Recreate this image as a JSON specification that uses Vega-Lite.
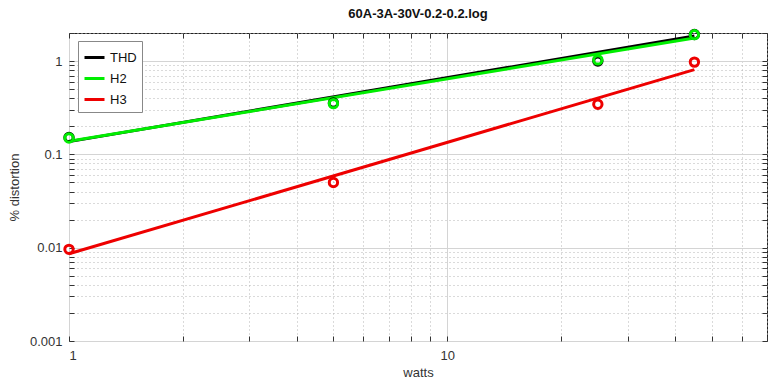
{
  "$schema": "https://vega.github.io/schema/vega-lite/v6.json",
  "autosize": "none",
  "width": 698,
  "height": 308,
  "padding": {"left": 69, "top": 33, "right": 14, "bottom": 44},
  "background": "white",
  "title": {"text": "60A-3A-30V-0.2-0.2.log", "font": "Liberation Sans", "fontSize": 13, "fontWeight": "bold", "color": "#111", "offset": 3},
  "config": {
    "view": {"stroke": "#222", "strokeWidth": 1},
    "axis": {"labelFont": "Liberation Sans", "titleFont": "Liberation Sans", "labelFontSize": 13, "titleFontSize": 13, "labelColor": "#333", "titleColor": "#333", "titleFontWeight": "normal"}
  },
  "data": {"values": [
    {"series": "THD", "kind": "fit", "watts": 1, "pct": 0.137},
    {"series": "THD", "kind": "fit", "watts": 45, "pct": 1.86},
    {"series": "H2", "kind": "fit", "watts": 1, "pct": 0.138},
    {"series": "H2", "kind": "fit", "watts": 45, "pct": 1.77},
    {"series": "H3", "kind": "fit", "watts": 1, "pct": 0.0086},
    {"series": "H3", "kind": "fit", "watts": 45, "pct": 0.81},
    {"series": "THD", "kind": "meas", "watts": 1, "pct": 0.152},
    {"series": "THD", "kind": "meas", "watts": 5, "pct": 0.355},
    {"series": "THD", "kind": "meas", "watts": 25, "pct": 1.0},
    {"series": "THD", "kind": "meas", "watts": 45, "pct": 1.93},
    {"series": "H2", "kind": "meas", "watts": 1, "pct": 0.15},
    {"series": "H2", "kind": "meas", "watts": 5, "pct": 0.35},
    {"series": "H2", "kind": "meas", "watts": 25, "pct": 1.03},
    {"series": "H2", "kind": "meas", "watts": 45, "pct": 1.92},
    {"series": "H3", "kind": "meas", "watts": 1, "pct": 0.0096},
    {"series": "H3", "kind": "meas", "watts": 5, "pct": 0.05},
    {"series": "H3", "kind": "meas", "watts": 25, "pct": 0.345},
    {"series": "H3", "kind": "meas", "watts": 45, "pct": 0.975}
  ]},
  "resolve": {"axis": {"x": "independent", "y": "independent"}},
  "layer": [
    {
      "transform": [{"filter": "datum.kind === 'meas'"}],
      "mark": {"type": "point", "opacity": 0},
      "encoding": {
        "x": {"field": "watts", "type": "quantitative", "scale": {"type": "log", "domain": [1, 70], "nice": false},
          "axis": {"orient": "bottom", "values": [2,3,4,5,6,7,8,9,20,30,40,50,60,70], "grid": true, "gridDash": [1, 3], "gridColor": "#b4b4b4", "labels": false, "ticks": false, "domain": false, "title": null}},
        "y": {"field": "pct", "type": "quantitative", "scale": {"type": "log", "domain": [0.001, 2], "nice": false},
          "axis": {"orient": "left", "values": [0.002,0.003,0.004,0.005,0.006,0.007,0.008,0.009,0.02,0.03,0.04,0.05,0.06,0.07,0.08,0.09,0.2,0.3,0.4,0.5,0.6,0.7,0.8,0.9,2], "grid": true, "gridDash": [1, 3], "gridColor": "#b4b4b4", "labels": false, "ticks": false, "domain": false, "title": null}}
      }
    },
    {
      "transform": [{"filter": "datum.kind === 'fit'"}],
      "mark": {"type": "line", "strokeWidth": 3},
      "encoding": {
        "x": {"field": "watts", "type": "quantitative", "scale": {"type": "log", "domain": [1, 70], "nice": false},
          "axis": {"orient": "bottom", "values": [1, 10], "format": "~g", "grid": true, "gridColor": "#d4d4d4", "ticks": false, "domain": false, "labelPadding": 8, "title": "watts", "titlePadding": 4}},
        "y": {"field": "pct", "type": "quantitative", "scale": {"type": "log", "domain": [0.001, 2], "nice": false},
          "axis": {"orient": "left", "values": [0.001, 0.01, 0.1, 1], "format": "~g", "grid": true, "gridColor": "#d4d4d4", "ticks": false, "domain": false, "labelPadding": 7, "title": "% distortion", "titlePadding": 8}},
        "color": {"field": "series", "type": "nominal", "scale": {"domain": ["THD", "H2", "H3"], "range": ["#000000", "#00ee00", "#ee0000"]},
          "legend": {"title": null, "orient": "none", "legendX": 9, "legendY": 8, "symbolType": "stroke", "symbolStrokeWidth": 3, "symbolSize": 400, "labelFont": "Liberation Sans", "labelFontSize": 13, "labelColor": "#111", "fillColor": "white", "strokeColor": "#888", "padding": 5, "rowPadding": 2}},
        "order": {"field": "series"}
      }
    },
    {
      "transform": [{"filter": "datum.kind === 'meas'"}],
      "mark": {"type": "point", "shape": "circle", "filled": false, "strokeWidth": 3, "size": 70, "opacity": 1},
      "encoding": {
        "x": {"field": "watts", "type": "quantitative", "scale": {"type": "log", "domain": [1, 70], "nice": false},
          "axis": {"orient": "top", "values": [1,2,3,4,5,6,7,8,9,10,20,30,40,50,60,70], "grid": false, "labels": false, "ticks": true, "tickSize": -5, "tickColor": "#333", "domain": false, "title": null}},
        "y": {"field": "pct", "type": "quantitative", "scale": {"type": "log", "domain": [0.001, 2], "nice": false},
          "axis": {"orient": "right", "values": [0.001,0.002,0.003,0.004,0.005,0.006,0.007,0.008,0.009,0.01,0.02,0.03,0.04,0.05,0.06,0.07,0.08,0.09,0.1,0.2,0.3,0.4,0.5,0.6,0.7,0.8,0.9,1,2], "grid": false, "labels": false, "ticks": true, "tickSize": -5, "tickColor": "#333", "domain": false, "title": null}},
        "color": {"field": "series", "type": "nominal", "legend": null}
      }
    },
    {
      "transform": [{"filter": "datum.kind === 'meas'"}],
      "mark": {"type": "point", "opacity": 0},
      "encoding": {
        "x": {"field": "watts", "type": "quantitative", "scale": {"type": "log", "domain": [1, 70], "nice": false},
          "axis": {"orient": "bottom", "values": [1,2,3,4,5,6,7,8,9,10,20,30,40,50,60,70], "grid": false, "labels": false, "ticks": true, "tickSize": -5, "tickColor": "#333", "domain": false, "title": null}},
        "y": {"field": "pct", "type": "quantitative", "scale": {"type": "log", "domain": [0.001, 2], "nice": false},
          "axis": {"orient": "left", "values": [0.001,0.002,0.003,0.004,0.005,0.006,0.007,0.008,0.009,0.01,0.02,0.03,0.04,0.05,0.06,0.07,0.08,0.09,0.1,0.2,0.3,0.4,0.5,0.6,0.7,0.8,0.9,1,2], "grid": false, "labels": false, "ticks": true, "tickSize": -5, "tickColor": "#333", "domain": false, "title": null}}
      }
    }
  ]
}
